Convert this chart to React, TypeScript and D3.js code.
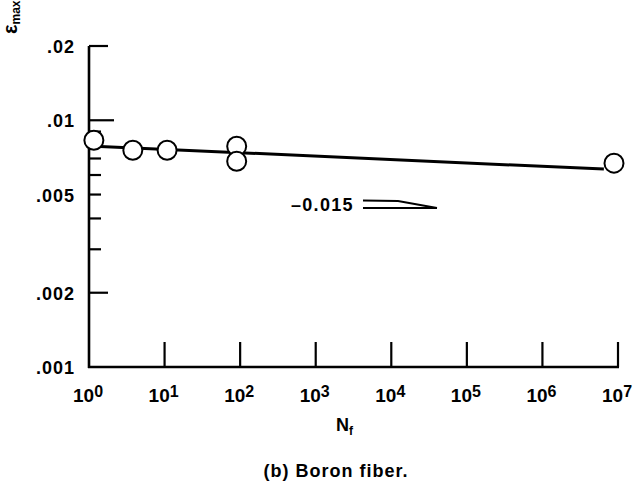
import { useEffect, useRef } from "react";
import * as d3 from "d3";

// cycles to failure and max strain
const nfValues = [1.16, 3.8, 10.8, 90, 90, 8.85e6];
const epsValues = [0.0083, 0.00756, 0.00756, 0.00785, 0.00682, 0.0067];

// fitted line (slope -0.015) endpoints
const fitN = [1, 6.5e6];
const fitEps = [0.00787, 0.00634];

const yLabelTicks = [0.001, 0.002, 0.005, 0.01, 0.02];
const yLabelText = [".001", ".002", ".005", ".01", ".02"];
const yMinorTicks = [0.003, 0.004, 0.006, 0.007, 0.008, 0.009];
const xExponents = [0, 1, 2, 3, 4, 5, 6, 7];

const W = 635;
const H = 483;
const FONT = "'Liberation Sans', Arial, Helvetica, sans-serif";

const App = () => {
    const svgRef = useRef<SVGSVGElement | null>(null);

    useEffect(() => {
        const svg = d3.select(svgRef.current);
        svg.selectAll("*").remove();

        const x = d3.scaleLog().domain([1, 1e7]).range([89, 618]);
        const y = d3.scaleLog().domain([0.001, 0.02]).range([367, 46]);

        const g = svg.append("g").attr("font-family", FONT).attr("font-weight", "bold").attr("fill", "#000");

        // axes
        g.append("line")
            .attr("x1", x(1)).attr("x2", x(1))
            .attr("y1", y(0.02)).attr("y2", y(0.001) + 1)
            .attr("stroke", "#000").attr("stroke-width", 2.6);
        g.append("line")
            .attr("x1", x(1) - 1).attr("x2", x(1e7) + 1)
            .attr("y1", y(0.001)).attr("y2", y(0.001))
            .attr("stroke", "#000").attr("stroke-width", 2.6);

        // y ticks
        const tickLen = (v: number) => (v === 0.01 ? 25 : v === 0.02 || v === 0.002 ? 19 : 12);
        yLabelTicks.concat(yMinorTicks).filter((v) => v !== 0.001).forEach((v) => {
            g.append("line")
                .attr("x1", x(1)).attr("x2", x(1) + tickLen(v))
                .attr("y1", y(v)).attr("y2", y(v))
                .attr("stroke", "#000").attr("stroke-width", 2.2);
        });
        yLabelTicks.forEach((v, i) => {
            g.append("text")
                .attr("x", 75)
                .attr("y", y(v) + 7)
                .attr("text-anchor", "end")
                .style("font-size", "18px")
                .style("letter-spacing", "1px")
                .text(yLabelText[i]);
        });

        // x ticks
        xExponents.forEach((e) => {
            const px = x(Math.pow(10, e));
            if (e > 0) {
                g.append("line")
                    .attr("x1", px).attr("x2", px)
                    .attr("y1", y(0.001)).attr("y2", y(0.001) - 25)
                    .attr("stroke", "#000").attr("stroke-width", 2.2);
            }
            const t = g.append("text")
                .attr("x", px - 16)
                .attr("y", 402)
                .style("font-size", "19px");
            t.append("tspan").text("10");
            t.append("tspan").attr("dy", -5).style("font-size", "16px").text(String(e));
        });

        // fit line
        const line = d3.line<number>()
            .x((_, i) => x(fitN[i]))
            .y((d) => y(d));
        g.append("path")
            .attr("d", line(fitEps))
            .attr("fill", "none")
            .attr("stroke", "#000")
            .attr("stroke-width", 3);

        // data points
        g.selectAll(".pt")
            .data(nfValues)
            .enter()
            .append("circle")
            .attr("class", "pt")
            .attr("cx", (d) => x(d))
            .attr("cy", (_, i) => y(epsValues[i]))
            .attr("r", 9.5)
            .attr("fill", "#fff")
            .attr("stroke", "#000")
            .attr("stroke-width", 2);

        // slope annotation
        g.append("text")
            .attr("x", 291)
            .attr("y", 211)
            .style("font-size", "18px")
            .style("letter-spacing", "1.3px")
            .text("\u20130.015");
        g.append("path")
            .attr("d", "M363,200.5 L398,201 L437,208 M363,208 L437,208")
            .attr("fill", "none")
            .attr("stroke", "#000")
            .attr("stroke-width", 1.8);

        // axis titles
        const yl = g.append("text")
            .attr("transform", "translate(17,34) rotate(-90)")
            .style("font-size", "20px");
        yl.append("tspan").text("\u03b5");
        yl.append("tspan").attr("dy", 3).style("font-size", "12px").text("max");

        const xl = g.append("text")
            .attr("x", 336)
            .attr("y", 431)
            .style("font-size", "18px");
        xl.append("tspan").text("N");
        xl.append("tspan").attr("dy", 4).style("font-size", "12px").text("f");

        g.append("text")
            .attr("x", 336)
            .attr("y", 477)
            .attr("text-anchor", "middle")
            .style("font-size", "18px")
            .style("letter-spacing", "1px")
            .text("(b) Boron fiber.");
    }, []);

    return (
        <svg
            ref={svgRef}
            width={W}
            height={H}
            viewBox={`0 0 ${W} ${H}`}
            style={{ position: "absolute", left: 0, top: 0, background: "#fff" }}
        />
    );
};

export default App;
